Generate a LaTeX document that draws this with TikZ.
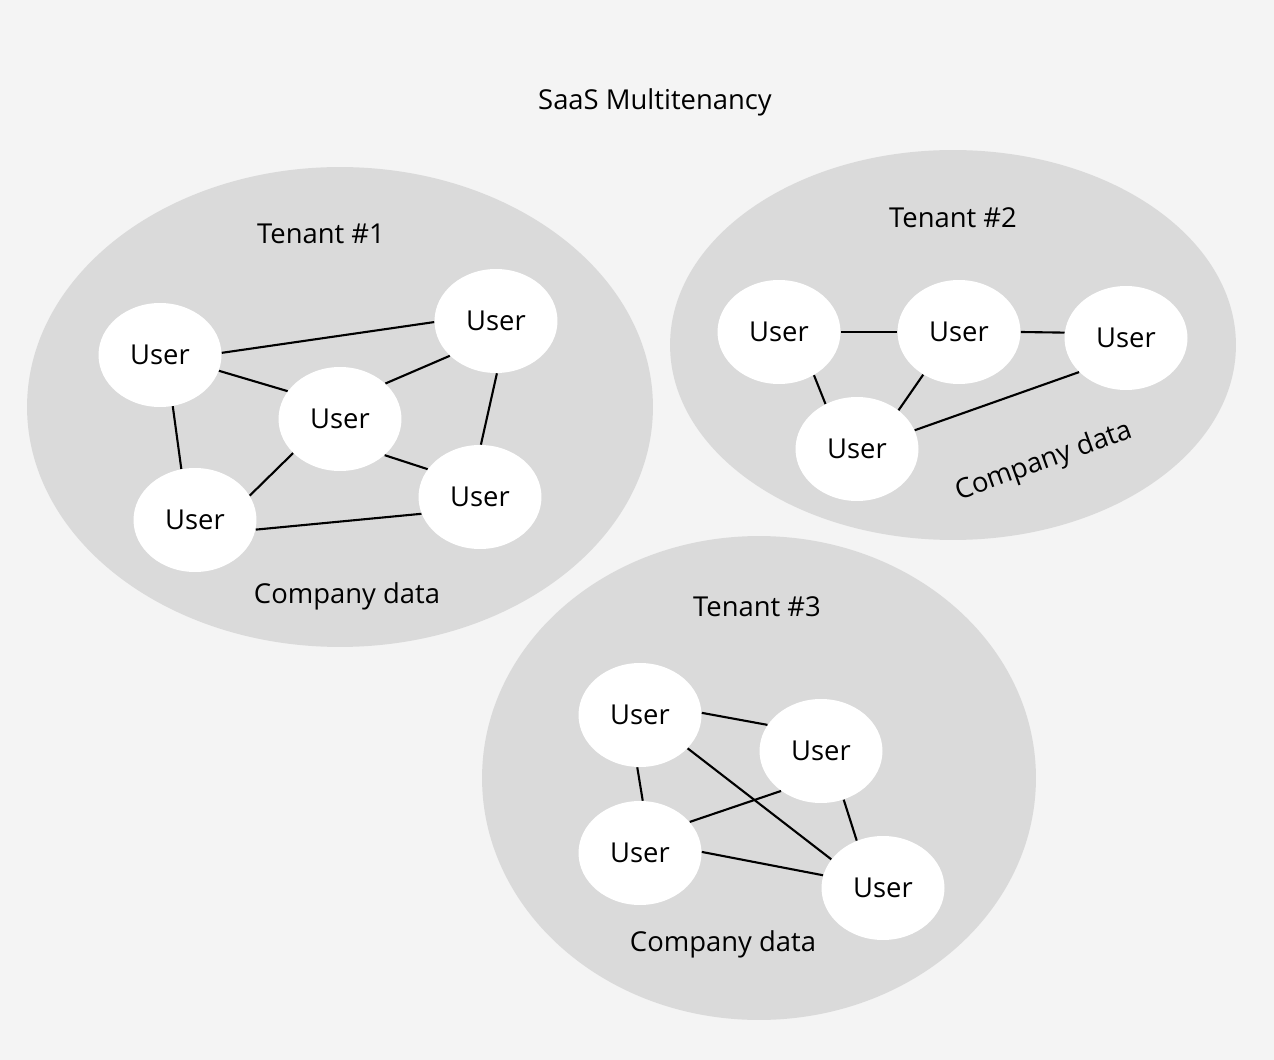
\documentclass[tikz,border=0pt]{standalone}
\usepackage{fontspec}
\setmainfont{Open Sans}
\usepackage{tikz}
\usetikzlibrary{shapes,positioning}
\definecolor{bgcol}{RGB}{244,244,244}
\definecolor{tenantcol}{RGB}{218,218,218}

\begin{document}
\begin{tikzpicture}[x=0.02cm,y=-0.02cm,
  lbl/.style={font=\fontsize{15.6}{18}\selectfont},
  tenant/.style={ellipse,fill=tenantcol,inner sep=0},
  user/.style={ellipse,fill=white,inner sep=0,minimum width=2.46cm,minimum height=2.08cm,lbl},
  link/.style={line width=1.2pt}]
\fill[bgcol] (0,0) rectangle (1274,1060);
\useasboundingbox (0,0) rectangle (1274,1060);

\node[lbl] (title) at (655,102) {SaaS Multitenancy};

\node[tenant,minimum width=12.52cm,minimum height=9.6cm] (t1) at (340,407) {};
\node[tenant,minimum width=11.32cm,minimum height=7.8cm] (t2) at (953,345) {};
\node[tenant,minimum width=11.08cm,minimum height=9.68cm] (t3) at (759,778) {};

\node[lbl] (t1name) at (321,234) {Tenant \#1};
\node[lbl] (t2name) at (953,218) {Tenant \#2};
\node[lbl] (t3name) at (757,607) {Tenant \#3};
\node[lbl] (t1data) at (347,596) {Company data};
\node[lbl,rotate=20] (t2data) at (1044,462) {Company data};
\node[lbl] (t3data) at (723,944) {Company data};

\node[user] (u1) at (160,355) {User};
\node[user] (u2) at (496,321) {User};
\node[user] (u3) at (340,419) {User};
\node[user] (u4) at (195,520) {User};
\node[user] (u5) at (480,497) {User};
\draw[link] (u1.2) -- (u2.181);
\draw[link] (u1.345) -- (u3.152);
\draw[link] (u2.217) -- (u3.38);
\draw[link] (u2.271) -- (u5.89);
\draw[link] (u3.321) -- (u5.152);
\draw[link] (u3.216) -- (u4.24);
\draw[link] (u1.284) -- (u4.105);
\draw[link] (u4.351) -- (u5.196);

\node[user] (u6) at (779,332) {User};
\node[user] (u7) at (959,332) {User};
\node[user] (u8) at (1126,338) {User};
\node[user] (u9) at (857,449) {User};
\draw[link] (u6.0) -- (u7.180);
\draw[link] (u7.0) -- (u8.175);
\draw[link] (u6.309) -- (u9.125);
\draw[link] (u7.230) -- (u9.43);
\draw[link] (u9.18) -- (u8.216);

\node[user] (u10) at (640,715) {User};
\node[user] (u11) at (821,751) {User};
\node[user] (u12) at (640,853) {User};
\node[user] (u13) at (883,888) {User};
\draw[link] (u10.2) -- (u11.154);
\draw[link] (u10.325) -- (u13.151);
\draw[link] (u10.267) -- (u12.87);
\draw[link] (u12.32) -- (u11.225);
\draw[link] (u11.295) -- (u13.119);
\draw[link] (u12.1) -- (u13.168);
\end{tikzpicture}
\end{document}
